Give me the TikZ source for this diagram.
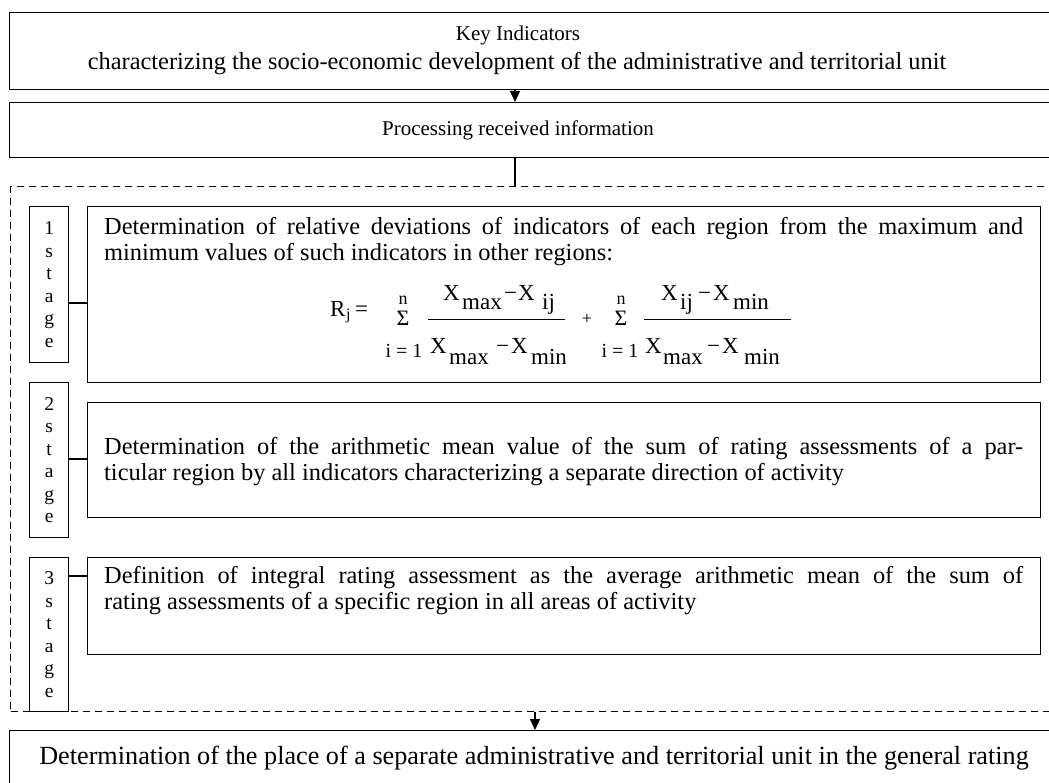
\documentclass[tikz,border=0pt]{standalone}
\usepackage{fontspec}
\setmainfont{Liberation Serif}
\usetikzlibrary{arrows.meta}
\begin{document}
\begin{tikzpicture}[x=1pt,y=-1pt,
  box/.style={draw, line width=1.3pt, inner sep=0pt, anchor=north west},
  dbox/.style={draw, line width=1.1pt, dash pattern=on 7pt off 5pt, inner sep=0pt, anchor=north west},
  stagebox/.style={box, minimum width=39pt, align=center, font=\fontsize{19.5}{22.5}\selectfont},
  txt/.style={inner sep=0pt, font=\fontsize{24.4}{26}\selectfont},
  ttl/.style={inner sep=0pt, font=\fontsize{21}{24}\selectfont},
  ftxt/.style={inner sep=0pt, anchor=base west, font=\fontsize{23}{24}\selectfont},
  fsmall/.style={inner sep=0pt, anchor=base, font=\fontsize{18}{20}\selectfont},
  conn/.style={line width=1.2pt},
  arr/.style={line width=1.2pt, -{Triangle[length=11pt,width=10pt]}}]
\useasboundingbox (0,0) rectangle (1049,783);
\fill[white] (0,0) rectangle (1049,783);
% top boxes
\node[box, minimum width=1100pt, minimum height=77pt] (top) at (9,12) {};
\node[ttl, anchor=base] (toptxa) at (518,41) {Key Indicators};
\node[txt, anchor=base] (toptxb) at (517,70) {characterizing the socio-economic development of the administrative and territorial unit};
\node[box, minimum width=1100pt, minimum height=55pt] (proc) at (9,102) {};
\node[ttl, anchor=base] (proctx) at (518,136) {Processing received information};
\coordinate (ax) at (515,0);
\draw[arr] (top.south -| ax) -- (proc.north -| ax);
% dashed frame
\node[dbox, minimum width=1100pt, minimum height=525pt] (stages) at (10,186) {};
\draw[conn] (proc.south -| ax) -- (stages.north -| ax);
% stages
\node[stagebox, minimum height=156pt] (s1) at (29,206) {1\\s\\t\\a\\g\\e};
\node[stagebox, minimum height=155pt] (s2) at (29,382) {2\\s\\t\\a\\g\\e};
\node[stagebox, minimum height=154pt] (s3) at (29,557) {3\\s\\t\\a\\g\\e};
\node[box, minimum width=953pt, minimum height=176pt] (c1) at (87,206) {};
\node[box, minimum width=953pt, minimum height=115pt] (c2) at (87,402) {};
\node[box, minimum width=953pt, minimum height=97pt] (c3) at (87,557) {};
\coordinate (l1) at (0,303);
\coordinate (l2) at (0,459);
\coordinate (l3) at (0,576);
\draw[conn] (s1.east |- l1) -- (c1.west |- l1);
\draw[conn] (s2.east |- l2) -- (c2.west |- l2);
\draw[conn] (s3.east |- l3) -- (c3.west |- l3);
% texts
\node[txt, anchor=base west] (c1a) at (104,235) {\makebox[919pt][s]{Determination of relative deviations of indicators of each region from the maximum and}};
\node[txt, anchor=base west] (c1b) at (104,261) {minimum values of such indicators in other regions:};
\node[txt, anchor=base west] (c2a) at (104,454) {\makebox[919pt][s]{Determination of the arithmetic mean value of the sum of rating assessments of a par-}};
\node[txt, anchor=base west] (c2b) at (104,480) {ticular region by all indicators characterizing a separate direction of activity};
\node[txt, anchor=base west] (c3a) at (104,583) {\makebox[919pt][s]{Definition of integral rating assessment as the average arithmetic mean of the sum of}};
\node[txt, anchor=base west] (c3b) at (104,609) {rating assessments of a specific region in all areas of activity};
% formula
\node[ftxt] (fR) at (330,317) {R};
\node[ftxt, font=\fontsize{16}{18}\selectfont] (fj) at (346,320) {j};
\node[ftxt] (feq) at (355,317) {=};
\node[fsmall] (fn1) at (403,305) {n};
\node[fsmall, font=\fontsize{22}{24}\selectfont] (fs1) at (403,326) {Σ};
\node[fsmall, font=\fontsize{20}{22}\selectfont] (fi1) at (404,357) {i = 1};
\draw[line width=0.9pt] (428,319) coordinate (fl1a) -- (565,319) coordinate (fl1b);
\node[ftxt] (n1x) at (443,301) {X};
\node[ftxt] (n1m) at (462,310) {max};
\node[ftxt] (n1mi) at (504,301) {−};
\node[ftxt] (n1y) at (518,301) {X};
\node[ftxt] (n1ij) at (542,310) {ij};
\node[ftxt] (d1x) at (430,353) {X};
\node[ftxt] (d1m) at (449,364) {max};
\node[ftxt] (d1mi) at (496,353) {−};
\node[ftxt] (d1y) at (511,353) {X};
\node[ftxt] (d1n) at (531,364) {min};
\node[fsmall] (fplus) at (587,325) {+};
\node[fsmall] (fn2) at (621,305) {n};
\node[fsmall, font=\fontsize{22}{24}\selectfont] (fs2) at (621,326) {Σ};
\node[fsmall, font=\fontsize{20}{22}\selectfont] (fi2) at (620,357) {i = 1};
\draw[line width=0.9pt] (644,319) coordinate (fl2a) -- (791,319) coordinate (fl2b);
\node[ftxt] (n2x) at (661,301) {X};
\node[ftxt] (n2ij) at (680,310) {ij};
\node[ftxt] (n2mi) at (698,301) {−};
\node[ftxt] (n2y) at (713,301) {X};
\node[ftxt] (n2n) at (733,310) {min};
\node[ftxt] (d2x) at (645,353) {X};
\node[ftxt] (d2m) at (663,364) {max};
\node[ftxt] (d2mi) at (707,353) {−};
\node[ftxt] (d2y) at (722,353) {X};
\node[ftxt] (d2n) at (744,364) {min};
% final
\node[box, minimum width=1100pt, minimum height=80pt] (final) at (9,730) {};
\node[txt, anchor=base, font=\fontsize{26.2}{28}\selectfont] (fintx) at (534,764) {Determination of the place of a separate administrative and territorial unit in the general rating};
\coordinate (bx) at (535,0);
\draw[arr] (stages.south -| bx) -- (final.north -| bx);
\end{tikzpicture}
\end{document}
